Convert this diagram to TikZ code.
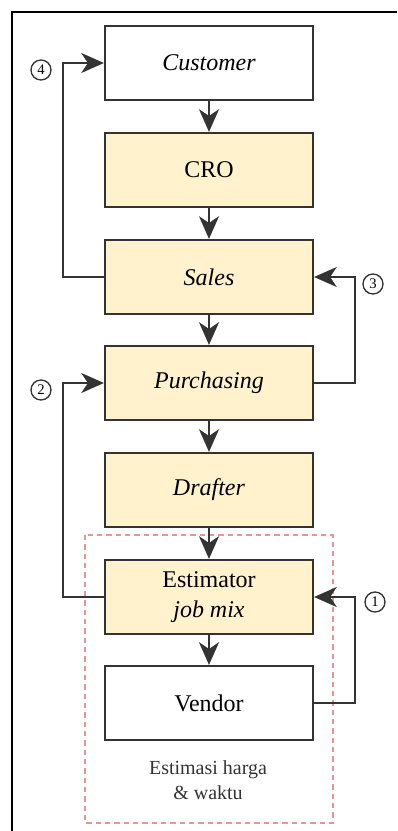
\documentclass[tikz,border=0pt]{standalone}
\usepackage{fontspec}
\setmainfont{Liberation Serif}
\usetikzlibrary{arrows.meta}

\definecolor{boxfill}{HTML}{FFF2CC}
\definecolor{boxline}{HTML}{333333}
\definecolor{groupred}{HTML}{E06666}

\begin{document}
\begin{tikzpicture}[
  x=0.75pt, y=-0.75pt,
  proc/.style={draw=boxline, line width=1.6pt, minimum width=156pt, minimum height=55.5pt,
    fill=#1, font=\fontsize{18}{23}\selectfont, align=center, inner sep=0pt},
  proc/.default=boxfill,
  flow/.style={line width=1.4pt, draw=boxline, -{Stealth[length=17pt,width=15pt,inset=5pt]}},
  step num/.style={draw=boxline, circle, line width=1pt, minimum size=15pt, inner sep=0pt,
    font=\fontsize{11}{11}\selectfont}
]
\useasboundingbox (0,0) rectangle (397,831);

% Frame
\draw[line width=0.8pt] (397,12) -- (12,12) -- (12,831);

% Estimation group
\draw[dashed, groupred!70, line width=0.8pt, dash pattern=on 4pt off 3pt] (85,535) rectangle (333,823);
\node[font=\fontsize{15}{19}\selectfont, align=center, text=black!80] (note) at (208,780) {Estimasi harga\\\& waktu};

% Process chain
\node[proc=white] (cust) at (209,63) {\textit{Customer}};
\node[proc] (cro) at (209,170) {CRO};
\node[proc] (sales) at (209,277) {\textit{Sales}};
\node[proc] (purch) at (209,383) {\textit{Purchasing}};
\node[proc] (draft) at (209,490) {\textit{Drafter}};
\node[proc] (est) at (209,597) {Estimator\\\textit{job mix}};
\node[proc=white] (vend) at (209,703) {Vendor};

\draw[flow] (cust) -- (cro);
\draw[flow] (cro) -- (sales);
\draw[flow] (sales) -- (purch);
\draw[flow] (purch) -- (draft);
\draw[flow] (draft) -- (est);
\draw[flow] (est) -- (vend);

% Feedback loops
\draw[flow] (vend.east) -- ++(41,0) |- (est.east);
\draw[flow] (est.west) -- ++(-41,0) |- (purch.west);
\draw[flow] (purch.east) -- ++(41,0) |- (sales.east);
\draw[flow] (sales.west) -- ++(-41,0) |- (cust.west);

\node[step num] (n1) at (375,602) {1};
\node[step num] (n2) at (41,390) {2};
\node[step num] (n3) at (373,284) {3};
\node[step num] (n4) at (41,70) {4};

\end{tikzpicture}
\end{document}
